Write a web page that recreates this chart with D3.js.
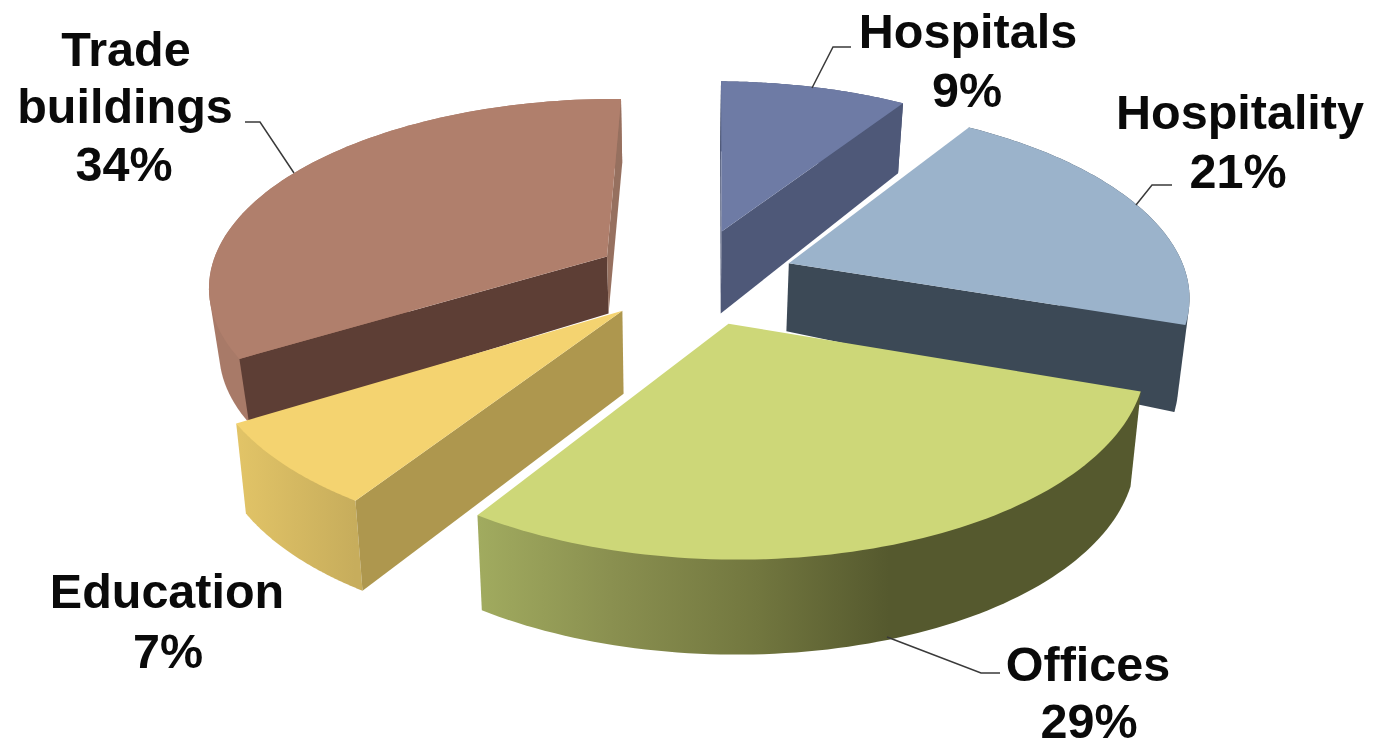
<!DOCTYPE html>
<html><head><meta charset="utf-8">
<script src="https://cdn.jsdelivr.net/npm/d3@7/dist/d3.min.js"></script>
<style>html,body{margin:0;padding:0;background:#fff}svg{display:block}</style>
</head><body><svg id="c" width="1375" height="741"></svg>
<script>
// --- data (clockwise from 12 o'clock)
const categories = ["Hospitals", "Hospitality", "Offices", "Education", "Trade buildings"];
const values = [9, 21, 29, 7, 34];
// --- styles (null = that radial wall faces away from the viewer)
const topColors = ["#6E7BA5", "#9BB3CB", "#CDD778", "#F4D370", "#B07F6C"];
const startWallColors = ["#4E5878", null, null, "#AE974E", "#5D3E35"];
const endWallColors = ["#4E5878", "#3C4956", null, null, "#96705F"];
const sideStops = [
  [["0", "#4E5878"], ["1", "#4E5878"]],
  [["0", "#3C4956"], ["1", "#3C4956"]],
  [["0", "#A1AB5F"], ["0.2", "#8A9050"], ["0.42", "#72773F"], ["0.62", "#55592E"], ["1", "#55592E"]],
  [["0", "#E2C467"], ["1", "#C7AD5C"]],
  [["0", "#A87A68"], ["1", "#A87A68"]]
];
// --- layout: world offset of each exploded slice, radius factor, wall height at apex / rim
const explodeX = [0.1166, 0.284, 0.1249, -0.1331, -0.1781];
const explodeY = [-0.2348, -0.0561, 0.2594, 0.1951, -0.093];
const radiusK = [0.9882, 0.9982, 0.9948, 1.0055, 1.0];
const wallApex = [82, 68, 92, 83, 57];
const wallRim = [70, 87, 95, 90, 64];
const drawOrder = [0, 4, 1, 3, 2];
const rotation = 0.0148, persp = 0.1482, wallShrink = 0.978;
const cx = 676.87, cy = 273.55, radiusX = 397.55, radiusY = 185.68;
const labelLines = [["Hospitals"], ["Hospitality"], ["Offices"], ["Education"], ["Trade", "buildings"]];
const labelX = [[968, 967], [1240, 1238], [1088, 1089], [167, 168], [126, 125, 124]];
const labelY = [[48, 107], [129, 188], [681, 738], [608, 668], [66, 123, 181]];
const leaders = [
  [[812, 88], [833, 47], [851, 47]],
  [[1136, 205], [1152, 185], [1172, 185]],
  [[887, 637], [981, 673], [1000, 673]],
  [[294, 173], [260, 122], [245, 122]]
];

const svg = d3.select("#c");
const xScale = d3.scaleLinear().domain([-1, 1]).range([cx - radiusX, cx + radiusX]);
const yScale = d3.scaleLinear().domain([-1, 1]).range([cy - radiusY, cy + radiusY]);
const arcs = d3.pie().sort(null).value(d => d).startAngle(rotation).endAngle(rotation + 2 * Math.PI)(values);
const line = d3.line();

function topPt(i, th, r) {
  const R = r * radiusK[i];
  const X = explodeX[i] + R * Math.sin(th), Y = explodeY[i] - R * Math.cos(th), w = 1 - persp * Y;
  return [xScale(X / w), yScale(Y / w)];
}
function bottomPt(i, th, r) {
  const p = topPt(i, th, r);
  const depth = d3.scaleLinear().domain([0, 1]).range([wallApex[i], wallRim[i]]);
  return [cx + (p[0] - cx) * wallShrink, p[1] + depth(r)];
}
const rimAngles = a => d3.range(0, 81).map(k => a.startAngle + (a.endAngle - a.startAngle) * k / 80);

const defs = svg.append("defs");
sideStops.forEach((stops, i) => {
  const xs = rimAngles(arcs[i]).map(t => topPt(i, t, 1)[0]);
  const g = defs.append("linearGradient").attr("id", "side" + i).attr("gradientUnits", "userSpaceOnUse")
    .attr("x1", d3.min(xs)).attr("x2", d3.max(xs)).attr("y1", 0).attr("y2", 0);
  stops.forEach(s => g.append("stop").attr("offset", s[0]).attr("stop-color", s[1]));
});

const pies = svg.append("g");
drawOrder.forEach(i => {
  const a = arcs[i], rim = rimAngles(a), g = pies.append("g");
  // rim wall: hull of the top and bottom rim, the top face hides the inner part
  const hull = d3.polygonHull([...rim.map(t => topPt(i, t, 1)), ...rim.map(t => bottomPt(i, t, 1))]);
  g.append("path").attr("fill", `url(#side${i})`).attr("d", line(hull) + "Z");
  // radial walls that face the viewer
  [[a.startAngle, startWallColors[i]], [a.endAngle, endWallColors[i]]].filter(d => d[1]).forEach(([t, col]) => {
    g.append("path").attr("fill", col).attr("d", line([
      topPt(i, t, 0), topPt(i, t, 1), bottomPt(i, t, 1), bottomPt(i, t, 0)
    ]) + "Z");
  });
  // top face
  g.append("path").attr("fill", topColors[i]).attr("d", line([topPt(i, 0, 0), ...rim.map(t => topPt(i, t, 1))]) + "Z");
});

svg.append("g").selectAll("path").data(leaders).join("path")
  .attr("d", d => line(d)).attr("fill", "none").attr("stroke", "#3a3a3a").attr("stroke-width", 1.5);

const labelGroup = svg.append("g").attr("font-family", "'Liberation Sans', Arial, sans-serif")
  .attr("font-weight", "bold").attr("font-size", 48.5).attr("fill", "#0a0a0a").attr("text-anchor", "middle");
categories.forEach((c, i) => {
  const lines = [...labelLines[i], values[i] + "%"];
  lines.forEach((t, k) => labelGroup.append("text").attr("x", labelX[i][k]).attr("y", labelY[i][k]).text(t));
});
</script></body></html>
